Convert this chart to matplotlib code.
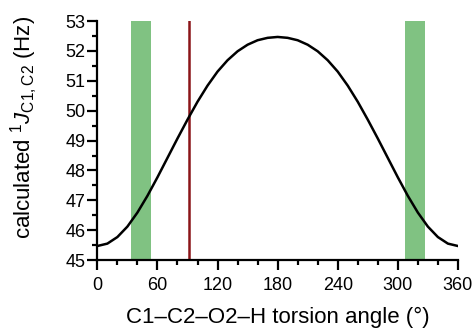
import matplotlib
matplotlib.use('Agg')
import matplotlib.pyplot as plt
from matplotlib.ticker import MultipleLocator

plt.rcParams['font.family'] = ['Liberation Sans', 'DejaVu Sans']
plt.rcParams['mathtext.fontset'] = 'custom'
plt.rcParams['mathtext.rm'] = 'Liberation Sans'
plt.rcParams['mathtext.it'] = 'Liberation Sans:italic'

# torsion angle (deg) and calculated coupling (Hz)
angle = [0, 10, 20, 30, 40, 50, 60, 70, 80, 90, 100, 110, 120, 130, 140, 150, 160, 170, 180,
         190, 200, 210, 220, 230, 240, 250, 260, 270, 280, 290, 300, 310, 320, 330, 340, 350, 360]
jcc = [45.47, 45.55, 45.77, 46.12, 46.59, 47.15, 47.77, 48.42, 49.07, 49.70, 50.30, 50.84,
       51.31, 51.69, 51.99, 52.21, 52.36, 52.44, 52.47,
       52.44, 52.36, 52.21, 51.99, 51.69, 51.31, 50.84, 50.30, 49.70, 49.07, 48.42, 47.77,
       47.15, 46.59, 46.12, 45.77, 45.55, 45.47]

# shaded ranges and marked angle
bands = [(34, 54), (307, 327)]
marked = 92

fig = plt.figure(figsize=(4.76, 3.3), dpi=100)
ax = fig.add_axes([0.2045, 0.212, 0.7575, 0.724])

for lo, hi in bands:
    ax.axvspan(lo, hi, color='#80c282', lw=0)
ax.axvline(marked, color='#8b1418', lw=1.8)
ax.plot(angle, jcc, color='black', lw=1.8)

ax.set_xlim(0, 360)
ax.set_ylim(45, 53)
ax.xaxis.set_major_locator(MultipleLocator(60))
ax.xaxis.set_minor_locator(MultipleLocator(20))
ax.yaxis.set_major_locator(MultipleLocator(1))
ax.yaxis.set_minor_locator(MultipleLocator(0.5))

for s in ['top', 'right']:
    ax.spines[s].set_visible(False)
for s in ['left', 'bottom']:
    ax.spines[s].set_linewidth(1.6)
ax.tick_params(which='major', length=7.5, width=1.6, labelsize=13)
ax.tick_params(axis='x', which='major', pad=5)
ax.tick_params(axis='y', which='major', pad=1)
ax.tick_params(which='minor', length=3.8, width=1.6)

ax.set_xlabel('C1\u2013C2\u2013O2\u2013H torsion angle (\u00b0)', fontsize=16, labelpad=9)
ax.set_ylabel(r'calculated $^{1}J_{\mathrm{C1,C2}}$ (Hz)', fontsize=16)
ax.yaxis.set_label_coords(-0.158, 0.555)

fig.savefig('out.png', dpi=100)
